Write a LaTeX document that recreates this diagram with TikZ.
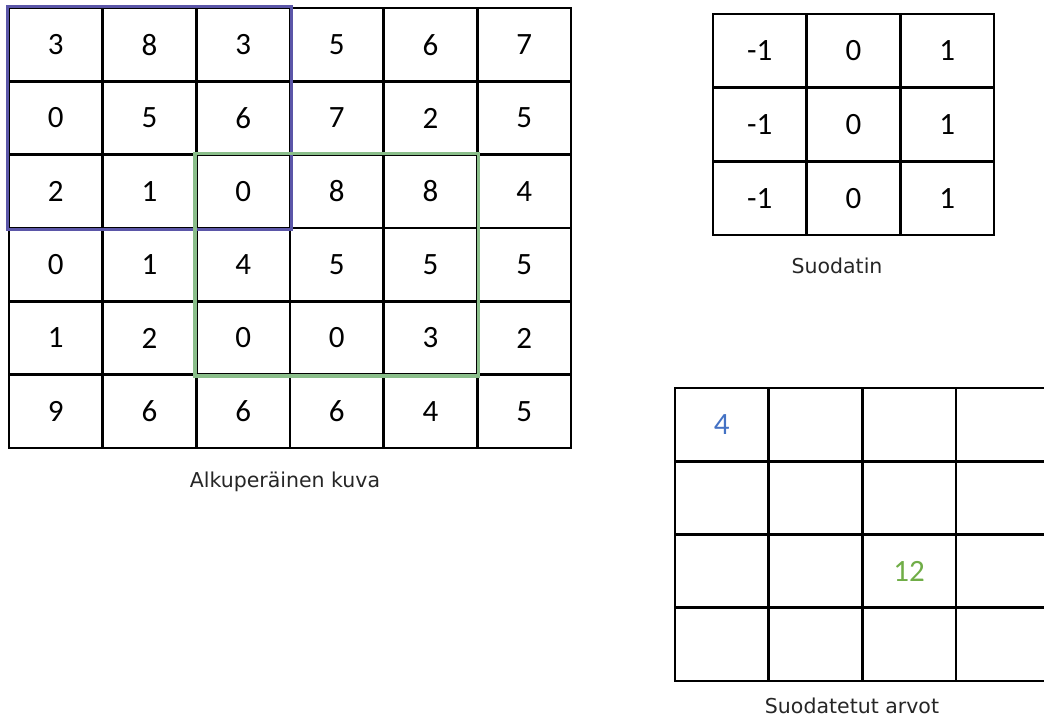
\documentclass[tikz,border=0pt]{standalone}
\usepackage{fontspec}
\setmainfont{Carlito}
\newfontfamily\labelfont{DejaVu Sans}
\definecolor{winpurple}{RGB}{91,86,168}
\definecolor{wingreen}{RGB}{138,190,138}
\definecolor{valblue}{RGB}{68,114,196}
\definecolor{valgreen}{RGB}{112,173,71}
\begin{document}
\begin{tikzpicture}[x=1pt,y=-1pt,
  cellA/.style={draw=black, line width=2.6pt, minimum width=93.67pt, minimum height=73.33pt, inner sep=0pt, anchor=center, font=\fontsize{31}{31}\selectfont},
  cellF/.style={cellA, minimum height=73.67pt},
  cellO/.style={cellA, minimum width=93.6pt, minimum height=73.25pt},
  caption/.style={font=\labelfont\fontsize{20.5}{20.5}\selectfont, text=black!85, anchor=center},
  win/.style={line width=3.4pt}]
\useasboundingbox (0,0) rectangle (1044,718);
\clip (0,0) rectangle (1044,718);
% original image
\foreach \r/\row in {0/{3,8,3,5,6,7},1/{0,5,6,7,2,5},2/{2,1,0,8,8,4},3/{0,1,4,5,5,5},4/{1,2,0,0,3,2},5/{9,6,6,6,4,5}}{
  \foreach \v [count=\c from 0] in \row {
    \node[cellA] (a-\r-\c) at ({9+93.67*(\c+0.5)},{8+73.33*(\r+0.5)}) {\v};
  }
}
\draw[win, draw=winpurple] (a-0-0.north west) rectangle (a-2-2.south east);
\draw[win, draw=wingreen] (a-2-2.north west) rectangle (a-4-4.south east);
\node[caption] (capA) at (285,482) {Alkuperäinen kuva};
% filter
\foreach \r in {0,1,2}{
  \foreach \v [count=\c from 0] in {-1,0,1}{
    \node[cellF] (f-\r-\c) at ({713+93.67*(\c+0.5)},{14+73.67*(\r+0.5)}) {\v};
  }
}
\node[caption] (capF) at (837,266) {Suodatin};
% output
\foreach \r in {0,1,2,3}{
  \foreach \c in {0,1,2,3}{
    \node[cellO] (o-\r-\c) at ({675+93.6*(\c+0.5)},{388+73.25*(\r+0.5)}) {};
  }
}
\node[text=valblue, font=\fontsize{31}{31}\selectfont] (v4) at (o-0-0) {4};
\node[text=valgreen, font=\fontsize{31}{31}\selectfont] (v12) at (o-2-2) {12};
\node[caption] (capO) at (852,706) {Suodatetut arvot};
\end{tikzpicture}
\end{document}
